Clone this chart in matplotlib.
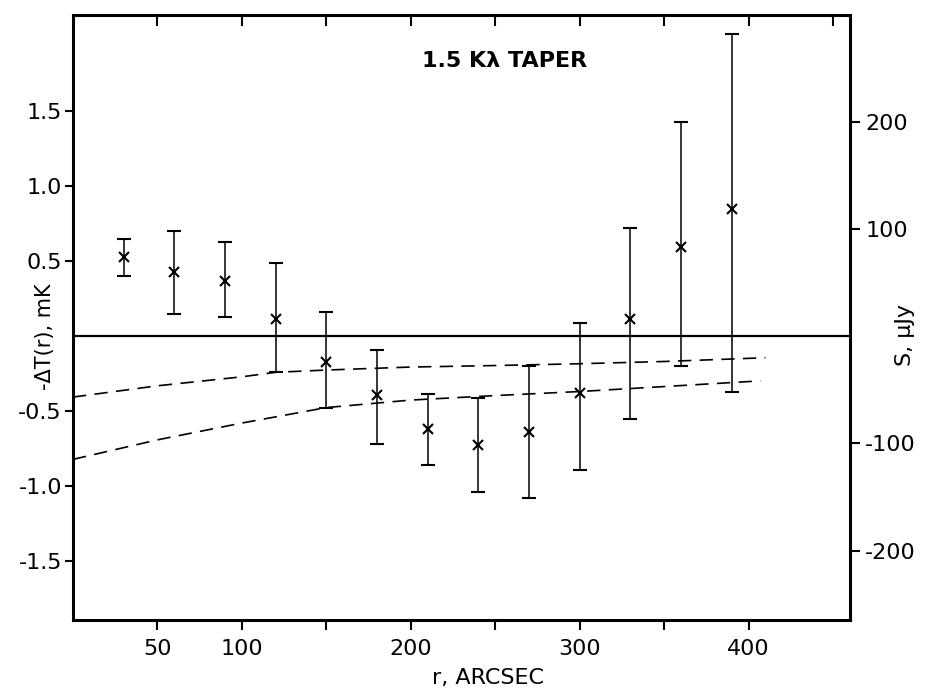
import matplotlib
matplotlib.use("agg")
import matplotlib.pyplot as plt
import numpy as np

plt.rcParams['axes.unicode_minus'] = False
plt.rcParams['font.family'] = 'DejaVu Sans'

# measured points, -dT(r) in mK
r_arcsec = np.array([30, 60, 90, 120, 150, 180, 210, 240, 270, 300, 330, 360, 390])
dT = np.array([0.525, 0.429, 0.367, 0.113, -0.171, -0.393, -0.618, -0.725, -0.635, -0.38, 0.112, 0.595, 0.848])
err_hi = np.array([0.651, 0.702, 0.627, 0.491, 0.162, -0.089, -0.385, -0.411, -0.197, 0.088, 0.721, 1.427, 2.014])
err_lo = np.array([0.40, 0.151, 0.127, -0.238, -0.475, -0.715, -0.856, -1.039, -1.075, -0.891, -0.551, -0.20, -0.373])

# dashed model curves
up_r = np.array([0, 50, 100, 120, 150, 200, 250, 300, 350, 410])
up_T = np.array([-0.405, -0.33, -0.27, -0.24, -0.225, -0.205, -0.195, -0.183, -0.168, -0.143])
lo_r = np.array([0, 50, 100, 150, 200, 250, 300, 350, 407])
lo_T = np.array([-0.82, -0.69, -0.578, -0.475, -0.425, -0.395, -0.368, -0.335, -0.297])

left_ticks = [1.5, 1.0, 0.5, -0.5, -1.0, -1.5]
left_labels = ['1.5', '1.0', '0.5', '-0.5', '-1.0', '-1.5']
right_ticks = [200, 100, -100, -200]
right_labels = ['200', '100', '-100', '-200']
x_ticks = [50, 100, 150, 200, 250, 300, 350, 400]
x_labels = ['50', '100', '', '200', '', '300', '', '400']
top_ticks = [50, 100, 150, 200, 250, 300, 350, 400, 450]

mk_to_ujy = 140.0

fig = plt.figure(figsize=(9.31, 6.92), dpi=100)
ax = fig.add_axes([73/931, 1-620/692, 777/931, 605/692])

ax.axhline(0, color='black', lw=1.6, zorder=1)
ax.errorbar(r_arcsec, dT, yerr=[dT-err_lo, err_hi-dT], fmt='x', color='black',
            ms=7, mew=1.5, ecolor='black', elinewidth=1.1, capsize=5, capthick=1.4)
ax.plot(up_r, up_T, color='black', lw=1.2, dashes=(8, 5))
ax.plot(lo_r, lo_T, color='black', lw=1.2, dashes=(8, 5))

ax.set_xlim(0, 460)
ax.set_ylim(-1.89, 2.14)

for s in ax.spines.values():
    s.set_linewidth(2.2)

ax.set_xticks(x_ticks)
ax.set_xticklabels(x_labels, fontsize=16)
ax.set_yticks(left_ticks)
ax.set_yticklabels(left_labels, fontsize=16)
ax.tick_params(axis='x', direction='out', length=7, width=1.5, pad=7)
ax.tick_params(axis='y', direction='out', length=6, width=1.5, pad=2)

# top ticks pointing inward
axt = ax.secondary_xaxis('top')
axt.set_xticks(top_ticks)
axt.set_xticklabels([])
axt.tick_params(direction='in', length=8, width=1.5)

# right axis in microJansky
axr = ax.secondary_yaxis('right', functions=(lambda t: t*mk_to_ujy, lambda s: s/mk_to_ujy))
axr.set_yticks(right_ticks)
axr.set_yticklabels(right_labels, fontsize=16)
axr.tick_params(direction='out', length=7, width=1.5, pad=4)

ax.text(0.449, 0.924, '1.5 K\u03bb TAPER', transform=ax.transAxes, fontsize=16,
        fontweight='bold', ha='left', va='center')

fig.text(488/931, 1-678/692, 'r, ARCSEC', fontsize=16, ha='center', va='center')
fig.text(45/931, 1-337/692, '-\u0394T(r), mK', fontsize=15, rotation=90, ha='center', va='center')
fig.text(905/931, 1-335/692, 'S, \u03bcJy', fontsize=16, rotation=90, ha='center', va='center')

fig.savefig('out.png', dpi=100)
